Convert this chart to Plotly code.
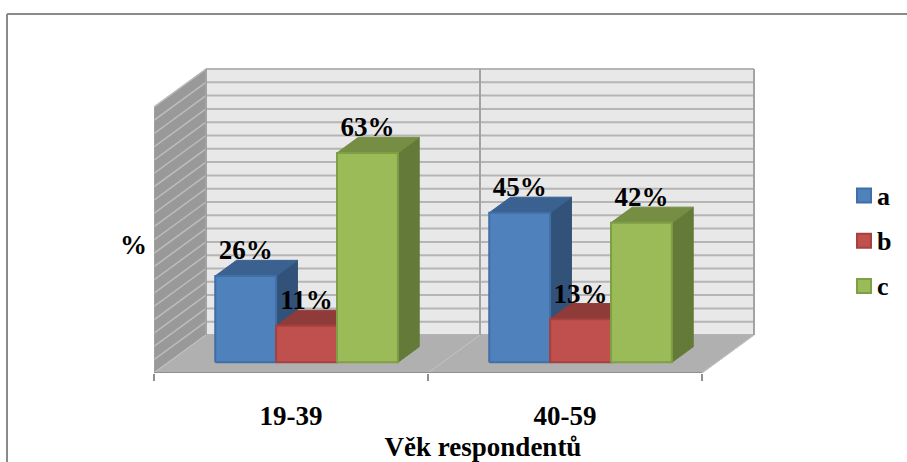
import plotly.graph_objects as go

# Survey shares by age group
categories = ["19-39", "40-59"]
series_names = ["a", "b", "c"]
series_values = {
    "a": [26, 45],
    "b": [11, 13],
    "c": [63, 42],
}
axis_max = 80
grid_step = 4
x_title = "Věk respondentů"
y_title = "%"

front_colors = {"a": "#4f81bd", "b": "#c0504d", "c": "#9bbb59"}
edge_colors = {"a": "#3f6fa6", "b": "#a5413e", "c": "#7f9f45"}
top_colors = {"a": "#3b6190", "b": "#8f3b39", "c": "#758e43"}
side_colors = {"a": "#325279", "b": "#7d3331", "c": "#647a39"}
SERIF = "Liberation Serif"
BOLD = dict(family=SERIF, size=27, color="#000000", weight="bold")

# Oblique projection: depth runs from the front floor edge (0) to the back wall (1)
W, H = 907, 462
LEFT, FLOOR_PX, TOP_PX, RIGHT_PX = 154, 373, 14, 812
CAT_PX, PCT_PX = 274.0, 3.325
DEPTH_X = 52 / CAT_PX
DEPTH_Y = 38 / PCT_PX
BAR_W = 1 / 4.5
BAR_START = 0.75 * BAR_W + 1 / CAT_PX
BAR_FRONT = 0.28
BAR_DEPTH = 0.41


def project(x, pct, depth=0.0):
    return x + depth * DEPTH_X, pct + depth * DEPTH_Y


def poly(corners, fill, line=None, width=1):
    pts = [project(*c) for c in corners]
    pts.append(pts[0])
    return go.Scatter(
        x=[p[0] for p in pts], y=[p[1] for p in pts], mode="lines",
        fill="toself", fillcolor=fill,
        line=dict(color=line or fill, width=width),
        hoverinfo="skip", showlegend=False, cliponaxis=False,
    )


def seg(a, b, color, width):
    pts = [project(*a), project(*b)]
    return go.Scatter(
        x=[p[0] for p in pts], y=[p[1] for p in pts], mode="lines",
        line=dict(color=color, width=width),
        hoverinfo="skip", showlegend=False, cliponaxis=False,
    )


n = len(categories)
fig = go.Figure()

# Chart walls and floor
fig.add_trace(poly([(0, 0, 1), (n, 0, 1), (n, axis_max, 1), (0, axis_max, 1)], "#e8e8e8"))
fig.add_trace(poly([(0, 0, 0), (0, 0, 1), (0, axis_max, 1), (0, axis_max, 0)], "#999999"))
for g in range(0, axis_max + 1, grid_step):
    fig.add_trace(seg((0, g, 1), (n, g, 1), "#b5b5b5", 2))
    fig.add_trace(seg((0, g, 0), (0, g, 1), "#bcbcbc", 1.5))
fig.add_trace(poly([(0, 0, 0), (n, 0, 0), (n, 0, 1), (0, 0, 1)], "#b0b0b0"))
for i in range(n + 1):
    fig.add_trace(seg((i, 0, 0), (i, 0, 1), "#c4c4c4", 1))
    fig.add_trace(seg((i, 0, 1), (i, axis_max, 1), "#a3a3a3", 2))
fig.add_trace(seg((0, 0, 0), (0, axis_max, 0), "#a8a8a8", 1))
fig.add_trace(seg((0, 0, 0), (n, 0, 0), "#8f8f8f", 2))

# Bars, back to front within each group
d0, d1 = BAR_FRONT, BAR_FRONT + BAR_DEPTH
label_x, label_y, label_text = [], [], []
for c in range(n):
    for s, name in enumerate(series_names):
        v = series_values[name][c]
        x0 = c + BAR_START + s * BAR_W
        x1 = x0 + BAR_W
        edge = edge_colors[name]
        fig.add_trace(poly([(x1, 0, d0), (x1, 0, d1), (x1, v, d1), (x1, v, d0)], side_colors[name]))
        fig.add_trace(poly([(x0, v, d0), (x1, v, d0), (x1, v, d1), (x0, v, d1)], top_colors[name]))
        fig.add_trace(poly([(x0, 0, d0), (x1, 0, d0), (x1, v, d0), (x0, v, d0)], front_colors[name], edge, 2))
        lx, ly = project((x0 + x1) / 2, v, d0)
        label_x.append(lx)
        label_y.append(ly + 7.0)
        label_text.append(f"{v}%")

# Value labels
fig.add_trace(go.Scatter(
    x=label_x, y=label_y, text=label_text, mode="text", textposition="middle center",
    textfont=BOLD, hoverinfo="skip", showlegend=False, cliponaxis=False,
))

plot_w = RIGHT_PX - LEFT
plot_h = FLOOR_PX - TOP_PX


def paper_x(px):
    return (px - LEFT) / plot_w


def paper_y(px):
    return (FLOOR_PX - px) / plot_h


# Key on the right: swatch plus series letter
annotations = [dict(
    text=y_title, xref="paper", yref="paper", x=paper_x(133), y=paper_y(245),
    showarrow=False, xanchor="center", yanchor="middle", font=BOLD,
)]
shapes = [
    dict(type="line", xref="paper", yref="paper", x0=paper_x(7), y0=paper_y(14),
         x1=paper_x(W), y1=paper_y(14), line=dict(color="#8a8a8a", width=2)),
    dict(type="line", xref="paper", yref="paper", x0=paper_x(7), y0=paper_y(14),
         x1=paper_x(7), y1=paper_y(H), line=dict(color="#8a8a8a", width=2)),
]
for i, name in enumerate(series_names):
    cy = 195.5 + i * 45.2
    shapes.append(dict(
        type="rect", xref="paper", yref="paper",
        x0=paper_x(857), x1=paper_x(871), y0=paper_y(cy - 7), y1=paper_y(cy + 7),
        fillcolor=front_colors[name], line=dict(color=edge_colors[name], width=2),
    ))
    annotations.append(dict(
        text=name, xref="paper", yref="paper", x=paper_x(877), y=paper_y(cy + 1),
        showarrow=False, xanchor="left", yanchor="middle", xshift=-2,
        font=dict(family=SERIF, size=26, color="#000000", weight="bold"),
    ))

fig.update_layout(
    width=W, height=H, showlegend=False,
    margin=dict(l=LEFT, r=W - RIGHT_PX, t=TOP_PX, b=H - FLOOR_PX, pad=0),
    paper_bgcolor="#ffffff", plot_bgcolor="rgba(0,0,0,0)",
    font=BOLD,
    xaxis=dict(
        range=[0, plot_w / CAT_PX], tickvals=[i + 0.5 for i in range(n)], ticktext=categories,
        ticks="", showgrid=False, zeroline=False, showline=False, fixedrange=True,
        automargin=False, ticklabelstandoff=24, tickfont=BOLD,
        minor=dict(tickvals=list(range(n + 1)), ticks="outside", ticklen=7, tickwidth=2,
                   tickcolor="#8f8f8f", showgrid=False),
        title=dict(text=x_title, standoff=8, font=BOLD),
    ),
    yaxis=dict(
        range=[0, plot_h / PCT_PX], showticklabels=False, ticks="", showgrid=False,
        zeroline=False, showline=False, fixedrange=True, automargin=False,
    ),
    annotations=annotations,
    shapes=shapes,
)

fig.write_html("out.html")
